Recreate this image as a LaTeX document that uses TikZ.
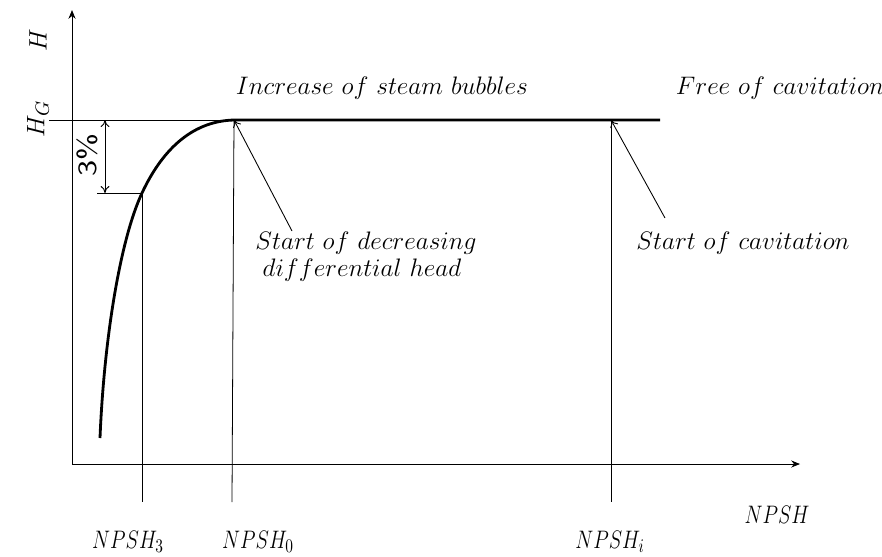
\documentclass[tikz,border=0pt]{standalone}
\usetikzlibrary{arrows.meta}

\begin{document}
\begin{tikzpicture}[x=0.02cm, y=-0.02cm, line width=0.45pt,
    font=\fontsize{15}{18}\selectfont,
    axis/.style={-{Stealth[length=5pt,width=4pt]}},
    pointer/.style={-{To[length=4pt,width=5pt]}, line width=0.5pt},
    dimline/.style={{To[length=4pt,width=5pt]}-{To[length=4pt,width=5pt]}, line width=0.55pt}]
  \useasboundingbox (0,0) rectangle (882,556);

  \coordinate (O)    at (72,464);
  \coordinate (Ytip) at (72,10);
  \coordinate (Xtip) at (800,464);

  \coordinate (HGl)  at (49,120);
  \coordinate (P3)   at (142,193);
  \coordinate (P0)   at (234,120);
  \coordinate (Pi)   at (611,120);
  \coordinate (Pend) at (660,120);
  \coordinate (Pbot) at (100,438);

  \coordinate (D3) at (142,502);
  \coordinate (D0) at (232,502);
  \coordinate (Di) at (611,502);

  % Achsen
  \draw[axis] (O) -- (Ytip);
  \draw[axis] (O) -- (Xtip);

  % H_G Linie
  \draw (HGl) -- (P0);

  % Kennlinie
  \draw[line width=1.6pt] (Pbot) .. controls (104,340) and (120,240) .. (P3)
    .. controls (164,146) and (195,121) .. (P0) -- (Pend);

  % Lote
  \draw (P3) -- (D3);
  \draw (P0) -- (D0);
  \draw (Pi) -- (Di);

  % 3%
  \coordinate (M1) at (105,120);
  \coordinate (M2) at (105,193);
  \coordinate (T3) at (97,193);
  \draw[dimline] (M1) -- (M2);
  \draw (T3) -- (P3);

  \node[rotate=90] (h)   at (38,40)  {$H$};
  \node[rotate=90] (hg)  at (38,119) {$H_G$};
  \node[rotate=90] (pct) at (87,155) {\scalebox{1.25}[1]{\sffamily 3\%}};

  \node (inc)  at (382,88) {$Increase\ of\ steam\ bubbles$};
  \node (free) at (780,88) {$Free\ of\ cavitation$};
  \node (sd1)  at (366,243) {$Start\ of\ decreasing$};
  \node (sd2)  at (362,270) {$differential\ head$};
  \node (sc)   at (743,243) {$Start\ of\ cavitation$};

  \coordinate (A0) at (292,231);
  \coordinate (Ai) at (665,218);
  \draw[pointer] (A0) -- (P0);
  \draw[pointer] (Ai) -- (Pi);

  \node (npsh)  at (777,515) {\scalebox{0.8}[1]{$NPSH$}};
  \node (npsh3) at (128,542) {\scalebox{0.8}[1]{$NPSH_3$}};
  \node (npsh0) at (258,542) {\scalebox{0.8}[1]{$NPSH_0$}};
  \node (npshi) at (610,542) {\scalebox{0.8}[1]{$NPSH_i$}};
\end{tikzpicture}
\end{document}
